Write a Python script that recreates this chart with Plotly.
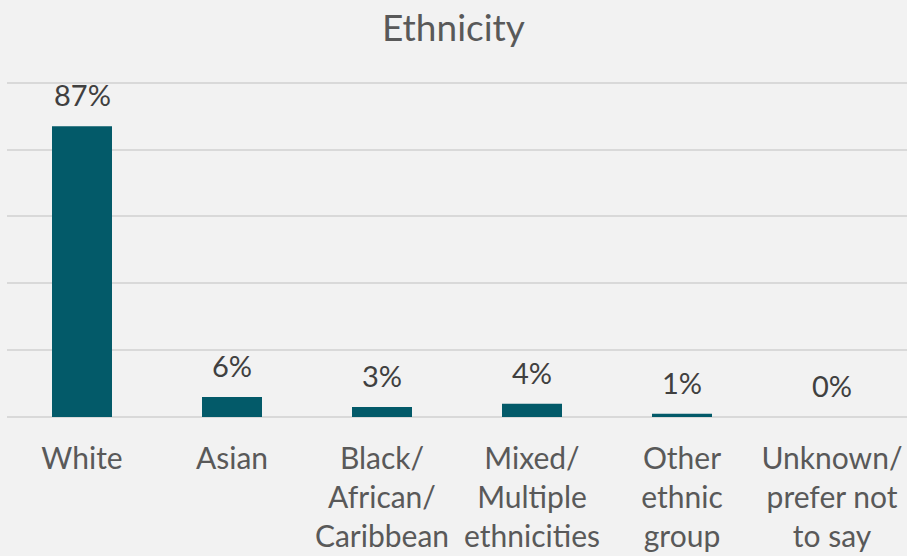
import plotly.graph_objects as go

categories = ["White", "Asian", "Black/<br>African/<br>Caribbean", "Mixed/<br>Multiple<br>ethnicities",
              "Other<br>ethnic<br>group", "Unknown/<br>prefer not<br>to say"]
values = [87, 6, 3, 4, 1, 0]
labels = [f"{v}%" for v in values]

fig = go.Figure(go.Bar(
    x=categories, y=values,
    marker=dict(color="#035a69", line=dict(width=0)),
    width=0.4,
))

for c, v, t in zip(categories, values, labels):
    fig.add_annotation(x=c, y=v, text=t, showarrow=False, yanchor="bottom", yshift=12,
                       font=dict(family="Lato", size=29, color="#404040"))

fig.update_layout(
    width=907, height=556,
    paper_bgcolor="#f2f2f2", plot_bgcolor="#f2f2f2",
    margin=dict(l=7, r=0, t=76, b=139),
    title=dict(text="Ethnicity", x=0.5, xanchor="center", y=0.95, yanchor="middle",
               font=dict(family="Lato", size=37, color="#595959")),
    showlegend=False,
    font=dict(family="Lato"),
)
fig.update_xaxes(tickfont=dict(family="Lato", size=30, color="#595959"), showline=False,
                 ticks="", showgrid=False, ticklabelstandoff=21)
fig.update_yaxes(range=[0, 102], tickvals=[0, 20, 40, 60, 80, 100], showticklabels=False,
                 gridcolor="#d9d9d9", gridwidth=1.5, zeroline=True, zerolinecolor="#d9d9d9",
                 zerolinewidth=1.5)

fig.write_html("out.html")
